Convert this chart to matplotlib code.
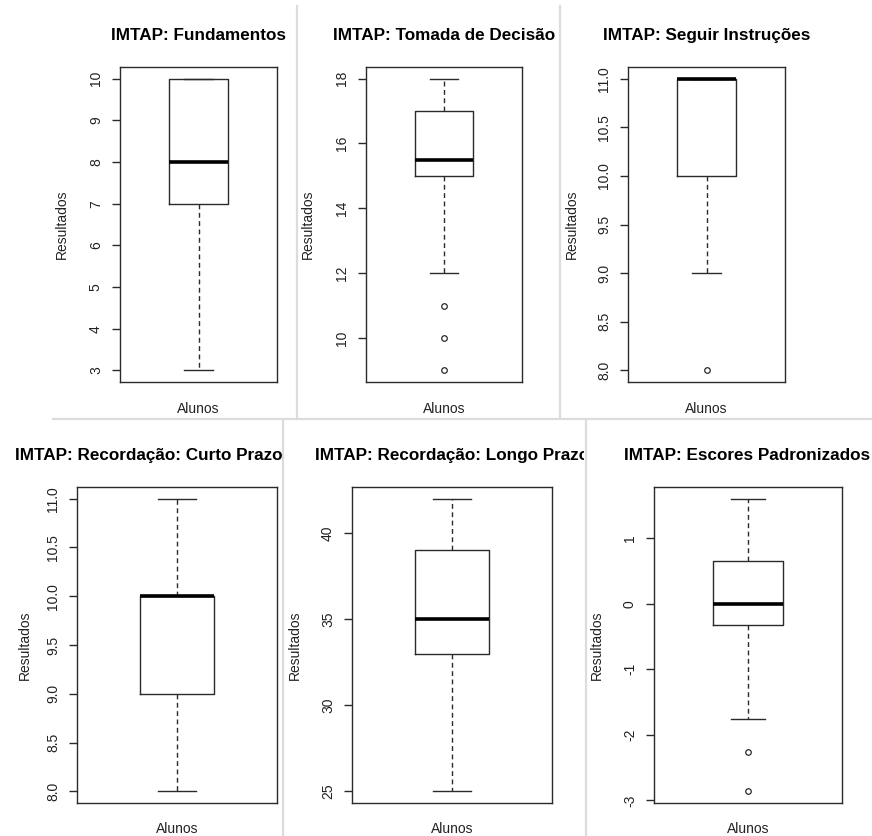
import matplotlib
matplotlib.use('Agg')
import matplotlib.pyplot as plt
from matplotlib.lines import Line2D
from matplotlib.transforms import Bbox, TransformedBbox

plt.rcParams['font.family'] = ['Liberation Sans', 'DejaVu Sans']

# ---------------- data ----------------
titles = ["IMTAP: Fundamentos", "IMTAP: Tomada de Decisão", "IMTAP: Seguir Instruções",
          "IMTAP: Recordação: Curto Prazo", "IMTAP: Recordação: Longo Prazo",
          "IMTAP: Escores Padronizados"]
whislo = [3, 12, 9, 8, 25, -1.76]
q1 = [7, 15, 10, 9, 33, -0.32]
med = [8, 15.5, 11, 10, 35, -0.01]
q3 = [10, 17, 11, 10, 39, 0.65]
whishi = [10, 18, 11, 11, 42, 1.60]
fliers = [[], [11, 10, 9], [8], [], [], [-2.26, -2.86]]
yticks = [[3, 4, 5, 6, 7, 8, 9, 10],
          [10, 12, 14, 16, 18],
          [8.0, 8.5, 9.0, 9.5, 10.0, 10.5, 11.0],
          [8.0, 8.5, 9.0, 9.5, 10.0, 10.5, 11.0],
          [25, 30, 35, 40],
          [-3, -2, -1, 0, 1]]
ytick_labels = [["3", "4", "5", "6", "7", "8", "9", "10"],
                ["10", "12", "14", "16", "18"],
                ["8.0", "8.5", "9.0", "9.5", "10.0", "10.5", "11.0"],
                ["8.0", "8.5", "9.0", "9.5", "10.0", "10.5", "11.0"],
                ["25", "30", "35", "40"],
                ["-3", "-2", "-1", "0", "1"]]
xlabel = "Alunos"
ylabel = "Resultados"

# ---------------- layout (pixels) ----------------
W, H = 872, 836
fig = plt.figure(figsize=(W / 100, H / 100), dpi=100)

axes_px = [(120, 67, 277, 382), (366, 67, 522, 382), (628, 67, 785, 382),
           (77, 487, 277, 803), (352, 487, 552, 803), (654, 487, 842, 803)]
ylabel_x = [62, 308, 572, 25, 295, 597]
title_pos = [(198, 40, 'center'), (444, 40, 'center'), (707, 40, 'center'),
             (15, 460, 'left'), (315, 460, 'left'), (747, 460, 'center')]
xlabel_y = [409, 409, 409, 829, 829, 829]

c = '#2a2a2a'

for i in range(6):
    x0, y0, x1, y1 = axes_px[i]
    ax = fig.add_axes([x0 / W, 1 - y1 / H, (x1 - x0) / W, (y1 - y0) / H])
    stats = [dict(med=med[i], q1=q1[i], q3=q3[i], whislo=whislo[i],
                  whishi=whishi[i], fliers=fliers[i])]
    ax.bxp(stats, positions=[1], widths=0.4, capwidths=0.2, showfliers=True,
           boxprops=dict(color=c, linewidth=1.0),
           medianprops=dict(color='black', linewidth=2.6, solid_capstyle='butt'),
           whiskerprops=dict(color=c, linewidth=1.0, linestyle=(0, (3.5, 2.5))),
           capprops=dict(color=c, linewidth=1.0),
           flierprops=dict(marker='o', markerfacecolor='none', markeredgecolor=c,
                           markersize=4, markeredgewidth=0.9))
    allv = [whislo[i], whishi[i]] + list(fliers[i])
    lo, hi = min(allv), max(allv)
    pad = 0.04 * (hi - lo)
    ax.set_ylim(lo - pad, hi + pad)
    ax.set_xlim(0.46, 1.54)
    ax.set_xticks([])
    ax.set_yticks(yticks[i])
    ax.set_yticklabels(ytick_labels[i], rotation=90, va='center')
    ax.tick_params(axis='y', length=5.8, pad=6.5, labelsize=10, width=1.0,
                   color=c, labelcolor='#222222')
    for s in ax.spines.values():
        s.set_linewidth(1.0)
        s.set_color(c)
    # labels
    fig.text(ylabel_x[i] / W, 1 - ((y0 + y1) / 2) / H, ylabel, rotation=90,
             ha='center', va='center', fontsize=10, color='#222222')
    fig.text(((x0 + x1) / 2) / W, 1 - xlabel_y[i] / H, xlabel,
             ha='center', va='center', fontsize=10, color='#222222')
    tx, ty, ha = title_pos[i]
    t = fig.text(tx / W, 1 - ty / H, titles[i], ha=ha, va='baseline',
                 fontsize=12.3, fontweight='bold', color='black')
    if i == 4:
        bb = Bbox([[0, 0], [584 / W, 1]])
        t.set_clip_box(TransformedBbox(bb, fig.transFigure))
        t.set_clip_on(True)

# separator lines
sep = dict(color='#dcdcdc', linewidth=1.6, transform=fig.transFigure)
segments = [((297, 6), (297, 419)), ((560, 6), (560, 419)),
            ((53, 419), (872, 419)),
            ((283, 419), (283, 836)), ((586, 419), (586, 836))]
for (ax_, ay_), (bx_, by_) in segments:
    fig.add_artist(Line2D([ax_ / W, bx_ / W], [1 - ay_ / H, 1 - by_ / H], **sep))

fig.savefig('out.png', dpi=100, facecolor='white')
